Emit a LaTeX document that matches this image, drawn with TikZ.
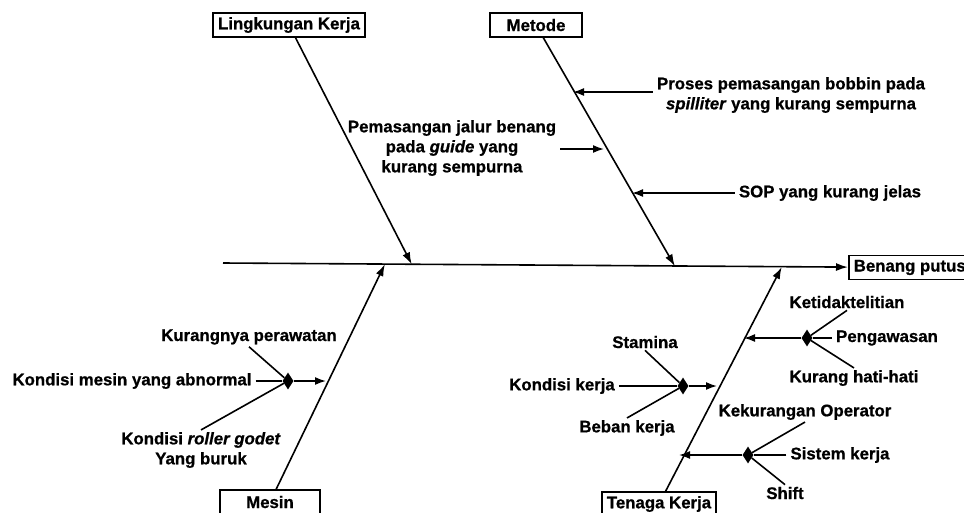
\documentclass[tikz,border=0pt]{standalone}
\usepackage{fontspec}
\setmainfont{Liberation Sans}[BoldFeatures={FakeBold=0.8},BoldItalicFeatures={FakeBold=0.8}]
\usetikzlibrary{arrows.meta,calc,shapes.geometric}
\tikzset{
kotak/.style={draw,line width=1.5pt,minimum height=24pt,inner xsep=5pt,inner ysep=2pt},
teks/.style={align=center,inner xsep=4pt,inner ysep=2pt},
tulang/.style={line width=1.6pt,-{Latex[length=12pt,width=8pt]}},
panah/.style={line width=1.6pt,-{Latex[length=11pt,width=8pt]}},
cabang/.style={line width=1.6pt},
simpul/.style={diamond,fill=black,inner sep=0pt,minimum width=11pt,minimum height=17pt}
}

\begin{document}
\begin{tikzpicture}[x=1pt,y=-1pt,every node/.append style={font=\fontsize{16.8}{20}\selectfont\bfseries}]
\useasboundingbox (0,0) rectangle (964,512);
%%% kepala & tulang utama
\node[kotak,anchor=west] (benang) at (848,267.5) {Benang putus};
\coordinate (ekor) at (223,263);
\draw[tulang] (ekor) -- (benang);
\coordinate (tL) at ($(ekor)!0.302!(benang.west)$);
\coordinate (tM) at ($(ekor)!0.723!(benang.west)$);
\coordinate (tMs) at ($(ekor)!0.259!(benang.west)$);
\coordinate (tT) at ($(ekor)!0.894!(benang.west)$);
%%% lingkungan kerja
\node[kotak] (lingkungan) at (289,25) {Lingkungan Kerja};
\draw[tulang] (lingkungan) -- (tL);
%%% metode
\node[kotak,minimum width=92pt] (metode) at (536,25) {Metode};
\draw[tulang] (metode) -- (tM);
\node[teks] (proses) at (791,95) {Proses pemasangan bobbin pada\\\textit{spilliter} yang kurang sempurna};
\node[teks] (pemasangan) at (452,148) {Pemasangan jalur benang\\pada \textit{guide} yang\\kurang sempurna};
\node[teks] (sop) at (830,193) {SOP yang kurang jelas};
\coordinate (m1) at (573,92);
\coordinate (m2) at (604,149);
\coordinate (m3) at (632,193);
\draw[panah] (proses.west |- m1) -- (m1);
\draw[panah] (pemasangan.east |- m2) -- (m2);
\draw[panah] (sop.west) -- (m3);
%%% mesin
\node[kotak,minimum width=100pt] (mesin) at (270,502) {Mesin};
\draw[tulang] (mesin) -- (tMs);
\node[simpul] (dMesin) at (288,381) {};
\coordinate (s1) at (326,381);
\draw[panah] (dMesin) -- (s1);
\node[teks] (kurangnya) at (249,337) {Kurangnya perawatan};
\node[teks] (abnormal) at (132,381) {Kondisi mesin yang abnormal};
\node[teks] (roller) at (201,450) {Kondisi \textit{roller godet}\\Yang buruk};
%%% tenaga kerja
\node[kotak] (tenaga) at (659,504) {Tenaga Kerja};
\draw[tulang] (tenaga) -- (tT);
\node[simpul] (dKerja) at (683,386) {};
\node[simpul] (dAwas) at (807,338) {};
\node[simpul] (dOper) at (748,455) {};
\coordinate (k1) at (717,386);
\coordinate (k2) at (744,338);
\coordinate (k3) at (679,455);
\foreach \i in {1,2,3}
  \draw[panah] (\ifcase\i\or dKerja\or dAwas\or dOper\fi) -- (k\i);
\node[teks] (stamina) at (645,342) {Stamina};
\node[teks] (kondisi) at (562,386) {Kondisi kerja};
\node[teks] (beban) at (627,428) {Beban kerja};
\node[teks] (teliti) at (847,302) {Ketidaktelitian};
\node[teks] (awas) at (887,338) {Pengawasan};
\node[teks] (hati) at (854,378) {Kurang hati-hati};
\node[teks] (operator) at (805,412) {Kekurangan Operator};
\node[teks] (sistem) at (840,455) {Sistem kerja};
\node[teks] (shift) at (785,493) {Shift};
%% cabang ke simpul
\foreach \a/\b in {kurangnya.south/dMesin,abnormal/dMesin,roller.north/dMesin,
  stamina.south/dKerja,kondisi/dKerja,beban.north/dKerja,
  teliti.south/dAwas,awas/dAwas,hati.north/dAwas,
  operator.south/dOper,sistem/dOper,shift.north/dOper}
  \draw[cabang] (\a) -- (\b);
\end{tikzpicture}
\end{document}
